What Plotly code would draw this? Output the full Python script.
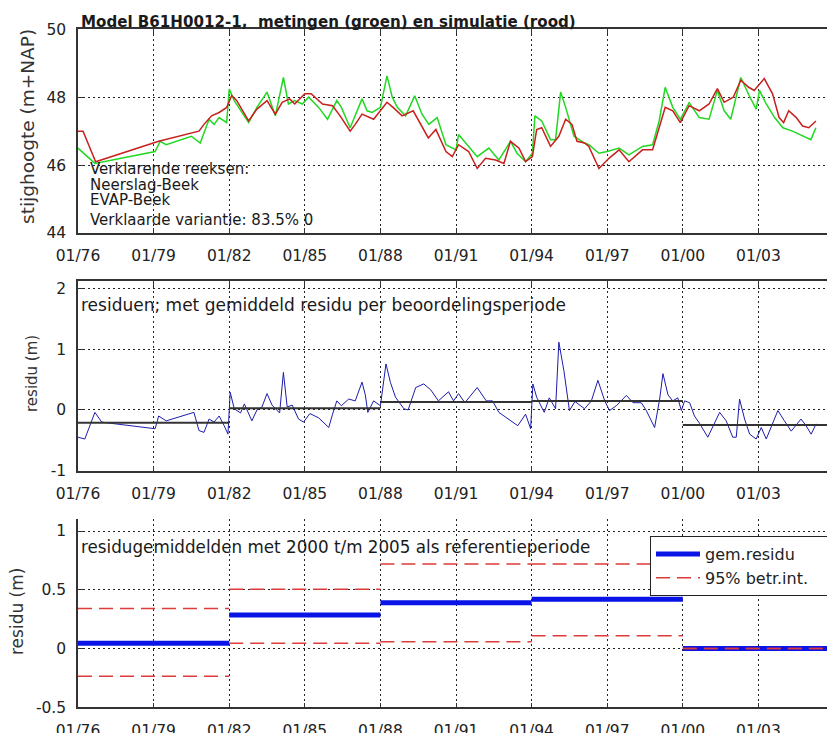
import plotly.graph_objects as go

# ---------------- data ----------------
sim_t = [1976.0, 1976.2, 1976.7, 1979.2, 1980.8, 1981.0, 1981.3, 1981.6, 1981.9, 1982.1,
         1982.3, 1982.77, 1983.1, 1983.5, 1983.83, 1984.1, 1984.4, 1984.6, 1985.0, 1985.25,
         1985.7, 1986.1, 1986.4, 1986.8, 1987.0, 1987.27, 1987.73, 1988.26, 1988.5, 1988.86,
         1989.3, 1989.6, 1989.9, 1990.2, 1990.6, 1990.85, 1991.1, 1991.5, 1991.84, 1992.17,
         1992.57, 1992.9, 1993.16, 1993.5, 1993.76, 1994.03, 1994.2, 1994.4, 1994.75, 1995.08,
         1995.35, 1995.6, 1995.8, 1996.1, 1996.27, 1996.67, 1997.07, 1997.47, 1997.86, 1998.4,
         1998.8, 1999.06, 1999.3, 1999.6, 1999.9, 2000.25, 2000.65, 2001.04, 2001.37, 2001.64,
         2002.0, 2002.3, 2002.6, 2002.83, 2003.23, 2003.56, 2003.82, 2004.0, 2004.2, 2004.5,
         2004.75, 2005.0, 2005.28]
sim_v = [47.0, 47.0, 46.1, 46.7, 47.0, 47.2, 47.45, 47.55, 47.7, 48.05,
         47.9, 47.3, 47.65, 47.9, 47.5, 47.85, 47.95, 47.8, 48.1, 48.1,
         47.8, 47.75, 47.45, 47.0, 47.2, 47.5, 47.35, 47.85, 47.7, 47.45,
         47.6, 47.2, 46.8, 47.05, 46.4, 46.25, 46.6, 46.4, 45.9, 46.2,
         46.15, 46.05, 46.7, 46.5, 46.1, 46.25, 47.05, 47.1, 46.55, 46.85,
         47.35, 47.2, 46.7, 46.65, 46.55, 45.9, 46.2, 46.45, 46.1, 46.45,
         46.45, 47.1, 47.7, 47.6, 47.25, 47.75, 47.6, 47.8, 48.25, 47.85,
         48.0, 48.5, 48.3, 48.2, 48.55, 48.1, 47.4, 47.25, 47.6, 47.4,
         47.15, 47.1, 47.3]

obs_t = [1976.0, 1976.67, 1979.06, 1979.26, 1979.5, 1980.5, 1980.85, 1981.2, 1981.4, 1981.6,
         1981.9, 1982.0, 1982.2, 1982.45, 1982.77, 1983.1, 1983.5, 1983.83, 1984.15, 1984.35,
         1984.6, 1984.9, 1985.15, 1985.55, 1985.9, 1986.27, 1986.45, 1986.8, 1987.27, 1987.47,
         1987.67, 1988.0, 1988.26, 1988.47, 1988.67, 1989.0, 1989.36, 1989.65, 1989.92, 1990.25,
         1990.6, 1991.0, 1991.1, 1991.5, 1991.84, 1992.3, 1992.7, 1993.16, 1993.42, 1993.76,
         1994.03, 1994.13, 1994.4, 1994.75, 1994.95, 1995.15, 1995.35, 1995.68, 1996.1, 1996.27,
         1996.67, 1997.0, 1997.47, 1997.86, 1998.2, 1998.4, 1998.8, 1999.06, 1999.3, 1999.6,
         1999.9, 2000.25, 2000.65, 2001.04, 2001.37, 2001.64, 2001.9, 2002.3, 2002.63, 2002.91,
         2003.04, 2003.31, 2003.64, 2003.97, 2004.35, 2004.75, 2005.08, 2005.28]
obs_v = [46.5, 46.05, 46.4, 46.7, 46.6, 46.85, 46.65, 47.35, 47.2, 47.4,
         47.25, 48.24, 47.9, 47.6, 47.25, 47.7, 48.15, 47.45, 48.58, 47.8,
         47.9, 47.8, 48.0, 47.7, 47.35, 47.9, 47.7, 47.1, 47.95, 47.6,
         47.55, 47.7, 48.63, 48.0, 47.7, 47.45, 48.04, 47.5, 47.2, 47.4,
         46.6, 46.45, 46.9, 46.55, 46.25, 46.5, 46.15, 46.7, 46.35, 46.1,
         46.35, 47.45, 47.3, 46.75, 46.75, 48.15, 47.7, 46.85, 46.65, 46.6,
         46.35, 46.4, 46.5, 46.3, 46.45, 46.55, 46.6, 47.3, 48.29, 47.7,
         47.35, 47.84, 47.4, 47.35, 48.2, 47.6, 47.35, 48.58, 48.05, 47.65,
         48.2, 47.8, 47.4, 47.1, 47.0, 46.85, 46.75, 47.1]

res_t = [1976.0, 1976.27, 1976.67, 1976.94, 1977.3, 1979.06, 1979.2, 1979.5, 1980.6, 1980.8,
         1981.0, 1981.2, 1981.4, 1981.6, 1981.8, 1981.95, 1982.04, 1982.2, 1982.45, 1982.6,
         1982.9, 1983.1, 1983.3, 1983.5, 1983.7, 1984.0, 1984.15, 1984.3, 1984.5, 1984.75,
         1984.95, 1985.2, 1985.55, 1985.95, 1986.1, 1986.27, 1986.45, 1986.74, 1987.0, 1987.27,
         1987.4, 1987.5, 1987.73, 1988.0, 1988.22, 1988.4, 1988.6, 1988.93, 1989.1, 1989.4,
         1989.72, 1990.0, 1990.3, 1990.7, 1990.9, 1991.1, 1991.35, 1991.84, 1992.2, 1992.45,
         1992.7, 1993.1, 1993.23, 1993.45, 1993.76, 1993.96, 1994.05, 1994.2, 1994.5, 1994.7,
         1994.95, 1995.08, 1995.28, 1995.5, 1995.72, 1996.1, 1996.37, 1996.63, 1996.9, 1997.09,
         1997.36, 1997.76, 1998.02, 1998.35, 1998.55, 1998.88, 1999.08, 1999.21, 1999.41, 1999.6,
         1999.8, 1999.94, 2000.07, 2000.27, 2000.46, 2000.66, 2000.99, 2001.26, 2001.46, 2001.72,
         2001.98, 2002.12, 2002.25, 2002.45, 2002.65, 2002.91, 2003.11, 2003.31, 2003.57, 2003.77,
         2004.03, 2004.3, 2004.69, 2004.89, 2005.09, 2005.29]
res_v = [-0.45, -0.48, -0.04, -0.2, -0.22, -0.31, -0.1, -0.18, -0.04, -0.34,
         -0.37, -0.15, -0.2, -0.1, -0.26, -0.4, 0.29, 0.02, -0.05, 0.1,
         -0.18, 0.0, 0.05, 0.27, 0.08, -0.05, 0.62, 0.05, 0.08, -0.15,
         -0.2, -0.06, -0.13, -0.29, -0.07, 0.15, 0.07, 0.18, 0.15, 0.46,
         0.25, -0.04, 0.15, 0.07, 0.76, 0.45, 0.21, 0.02, 0.0, 0.37,
         0.43, 0.33, 0.15, 0.3, 0.15, 0.27, 0.12, 0.37, 0.15, 0.15,
         -0.04, -0.15, -0.2, -0.26, -0.07, -0.31, 0.43, 0.21, -0.04, 0.2,
         0.02, 1.12, 0.65, -0.01, 0.14, 0.02, 0.15, 0.49, 0.15, -0.01,
         0.07, 0.24, 0.12, 0.12, -0.01, -0.29, 0.18, 0.6, 0.25, 0.15,
         0.2, -0.01, 0.15, 0.12, -0.1, -0.22, -0.45, -0.2, -0.04, -0.18,
         -0.45, -0.45, 0.18, -0.15, -0.4, -0.48, -0.29, -0.48, -0.22, -0.01,
         -0.18, -0.35, -0.15, -0.26, -0.4, -0.23]

period_edges = [1976, 1982, 1988, 1994, 2000, 2006]
period_mean_res = [-0.21, 0.03, 0.13, 0.15, -0.25]
gem_residu = [0.045, 0.285, 0.39, 0.42, 0.0]
betr_lo = [-0.235, 0.045, 0.058, 0.11, 0.0]
betr_hi = [0.34, 0.505, 0.72, 0.72, 0.0]

tick_years = [1976, 1979, 1982, 1985, 1988, 1991, 1994, 1997, 2000, 2003]
tick_labels = ["01/76", "01/79", "01/82", "01/85", "01/88", "01/91", "01/94", "01/97", "01/00", "01/03"]

# ---------------- figure ----------------
FONT = "DejaVu Sans"
W, H = 827, 733
PAD = "<span style='color:rgba(0,0,0,0)'>xxxxx</span>"


def steps(values):
    xs, ys = [], []
    for i, v in enumerate(values):
        xs += [period_edges[i], period_edges[i + 1], None]
        ys += [v, v, None]
    return xs, ys


fig = go.Figure()
fig.add_trace(go.Scatter(x=obs_t, y=obs_v, mode="lines", line=dict(color="#22d822", width=1.5),
                         showlegend=False, xaxis="x", yaxis="y"))
fig.add_trace(go.Scatter(x=sim_t, y=sim_v, mode="lines", line=dict(color="#c8201e", width=1.5),
                         showlegend=False, xaxis="x", yaxis="y"))
fig.add_trace(go.Scatter(x=res_t, y=res_v, mode="lines", line=dict(color="#1c1caa", width=1),
                         showlegend=False, xaxis="x2", yaxis="y2"))
mx, my = steps(period_mean_res)
fig.add_trace(go.Scatter(x=mx, y=my, mode="lines", line=dict(color="#333333", width=2),
                         showlegend=False, xaxis="x2", yaxis="y2"))
bx, by = steps(gem_residu)
fig.add_trace(go.Scatter(x=bx, y=by, mode="lines", line=dict(color="#0a14e6", width=5),
                         name="gem.residu", xaxis="x3", yaxis="y3"))
hx, hy = steps(betr_hi)
lx, ly = steps(betr_lo)
fig.add_trace(go.Scatter(x=hx + lx, y=hy + ly, mode="lines",
                         line=dict(color="#dd3a3a", width=1.5, dash="14px,7px"),
                         name="95% betr.int." + PAD, xaxis="x3", yaxis="y3"))

tickfont = dict(family=FONT, size=15.5, color="#222222")
common_x = dict(range=[1976, 2005.72], tickvals=tick_years, ticktext=tick_labels,
                ticks="inside", ticklen=5, tickcolor="#333333", tickwidth=1,
                showline=True, linecolor="#333333", linewidth=1.5,
                showgrid=True, gridcolor="#222222", griddash="2px,3px", gridwidth=1,
                zeroline=False, tickfont=tickfont, automargin=False, ticklabelstandoff=8)
common_y = dict(ticks="inside", ticklen=5, tickcolor="#333333", tickwidth=1,
                showline=True, linecolor="#333333", linewidth=1.5, mirror=False,
                showgrid=True, gridcolor="#222222", griddash="2px,3px", gridwidth=1,
                zeroline=False, tickfont=tickfont, automargin=False, ticklabelstandoff=7)


def dom(top_px, bottom_px):
    return [1 - bottom_px / H, 1 - top_px / H]


fig.update_layout(
    width=W, height=H,
    margin=dict(l=78, r=0, t=0, b=0, autoexpand=False),
    paper_bgcolor="white", plot_bgcolor="white",
    font=dict(family=FONT, color="#222222"),
    xaxis=dict(common_x, anchor="y", mirror="ticks"),
    yaxis=dict(common_y, anchor="x", domain=dom(29.3, 233), range=[44, 50],
               tickvals=[44, 46, 48, 50], ticktext=["44", "46", "48", "50"]),
    xaxis2=dict(common_x, anchor="y2", mirror="ticks"),
    yaxis2=dict(common_y, anchor="x2", domain=dom(281, 470.5), range=[-1.0, 2.13],
                tickvals=[-1, 0, 1, 2], ticktext=["-1", "0", "1", "2"]),
    xaxis3=dict(common_x, anchor="y3", mirror=False),
    yaxis3=dict(common_y, anchor="x3", domain=dom(519.3, 707.3), range=[-0.5, 1.10],
                tickvals=[-0.5, 0, 0.5, 1], ticktext=["-0.5", "0", "0.5", "1"]),
    legend=dict(x=(650 - 78) / 749, y=1 - 536 / H, xanchor="left", yanchor="top",
                bgcolor="white", bordercolor="#222222", borderwidth=1, itemwidth=44,
                font=dict(family=FONT, size=16, color="#222222")),
)


def px_y(y):
    return 1 - y / H


annots = [
    dict(text="<b>Model B61H0012-1,  metingen (groen) en simulatie (rood)</b>", x=0, xshift=1,
         y=px_y(29.3), yanchor="bottom", yshift=-4, size=15.1),
    dict(text="Verklarende reeksen:", x=0, xshift=10, y=px_y(169), yanchor="middle", size=15),
    dict(text="Neerslag-Beek", x=0, xshift=10, y=px_y(185), yanchor="middle", size=15),
    dict(text="EVAP-Beek", x=0, xshift=10, y=px_y(200), yanchor="middle", size=15),
    dict(text="Verklaarde variantie: 83.5% 0", x=0, xshift=10, y=px_y(220), yanchor="middle", size=15),
    dict(text="residuen; met gemiddeld residu per beoordelingsperiode", x=0, xshift=1,
         y=px_y(305), yanchor="middle", size=17),
    dict(text="residugemiddelden met 2000 t/m 2005 als referentieperiode", x=0, xshift=1,
         y=px_y(546.5), yanchor="middle", size=16.75),
]
for a in annots:
    fig.add_annotation(text=a["text"], xref="paper", yref="paper", x=a["x"], y=a["y"],
                       xanchor="left", yanchor=a["yanchor"], xshift=a["xshift"],
                       yshift=a.get("yshift", 0), showarrow=False,
                       font=dict(family=FONT, size=a["size"], color="#1a1a1a"))

ytitles = [
    ("stijghoogte (m+NAP)", px_y(127), -51, 18.5),
    ("residu (m)", px_y(374), -46, 15),
    ("residu (m)", px_y(612), -61, 17),
]
for txt, yy, xs, sz in ytitles:
    fig.add_annotation(text=txt, xref="paper", yref="paper", x=0, y=yy, xshift=xs,
                       xanchor="center", yanchor="middle", textangle=-90, showarrow=False,
                       font=dict(family=FONT, size=sz, color="#333333"))

fig.write_html("out.html", config={"displayModeBar": False},
               post_script="document.body.style.margin='0';document.body.style.overflow='hidden';")
